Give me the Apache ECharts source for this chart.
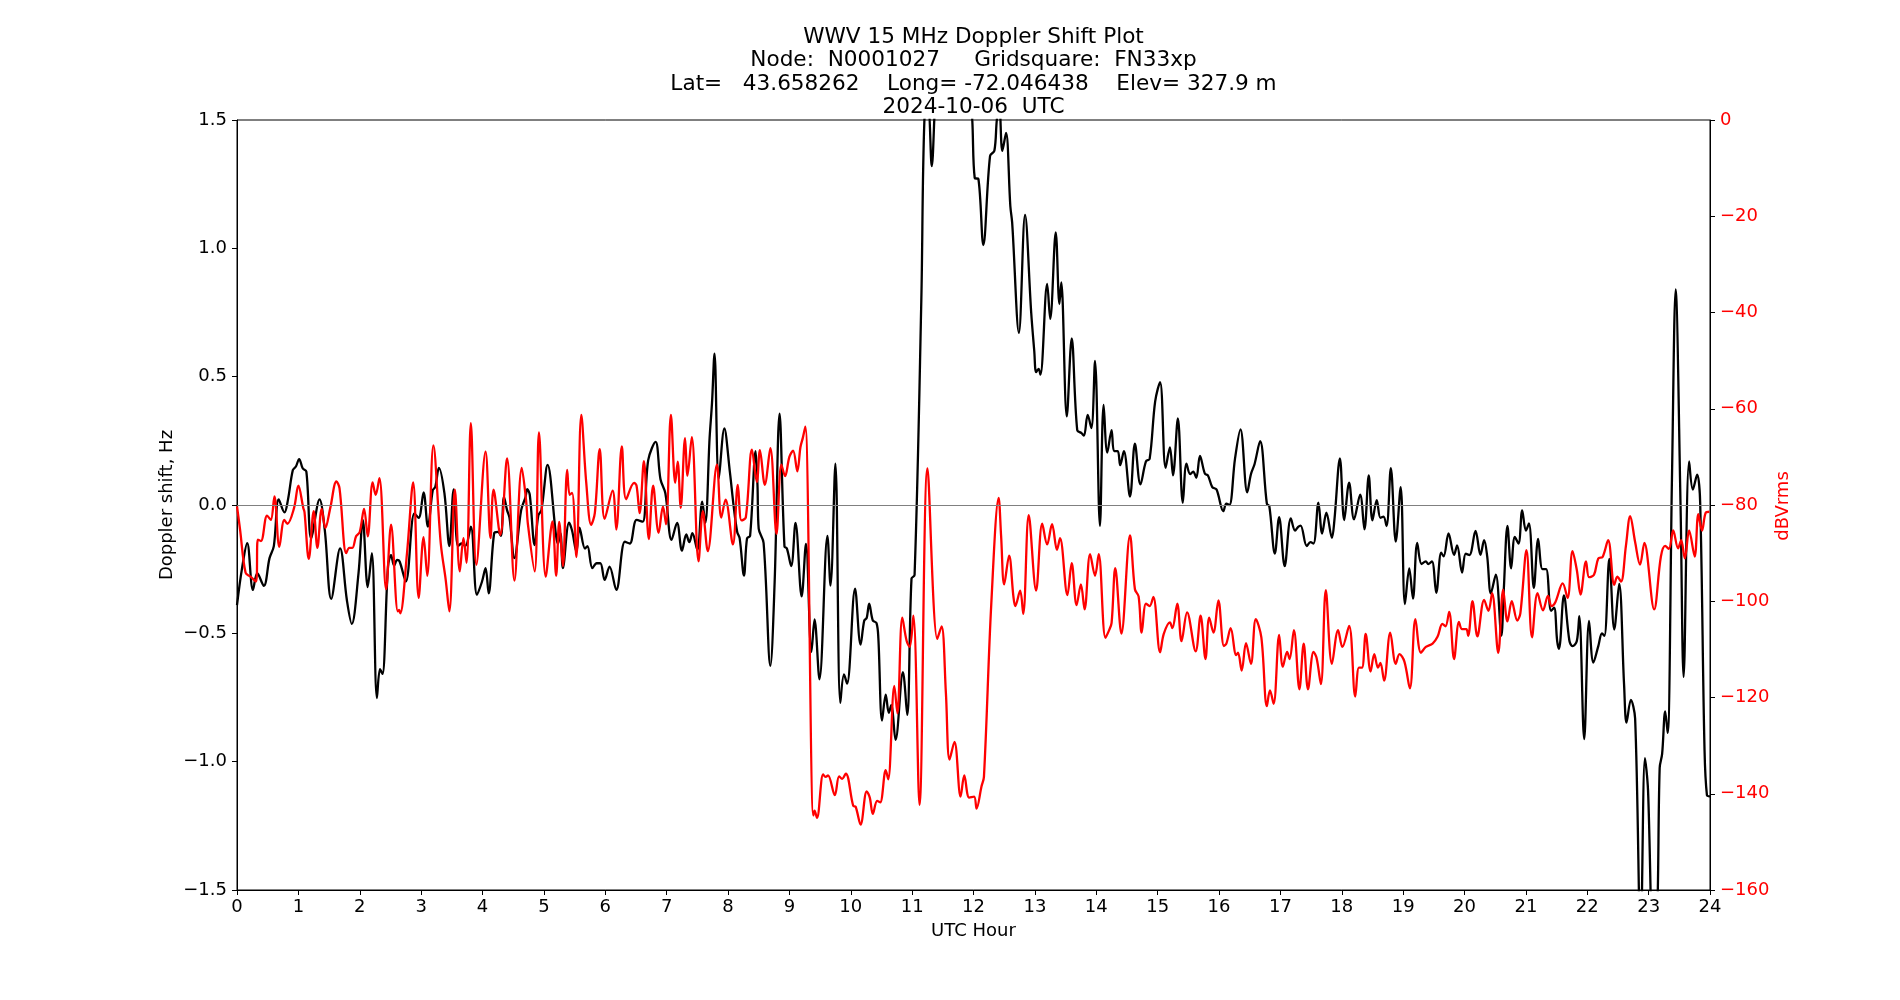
<!DOCTYPE html>
<html>
<head>
<meta charset="utf-8">
<title>WWV 15 MHz Doppler Shift Plot</title>
<script src="https://cdn.jsdelivr.net/npm/echarts@6/dist/echarts.min.js"></script>
<style>
  html, body { margin: 0; padding: 0; background: #fff; }
  #chart { width: 1900px; height: 1000px; }
</style>
</head>
<body>
<div id="chart"></div>
<script>
// Title lines
const titleLines = [
  'WWV 15 MHz Doppler Shift Plot',
  'Node:  N0001027     Gridsquare:  FN33xp',
  'Lat=   43.658262    Long= -72.046438    Elev= 327.9 m',
  '2024-10-06  UTC'
];

// Doppler shift (Hz) vs UTC hour
const dopplerPts = [
  [0.00,-0.39],[0.08,-0.25],[0.166,-0.149],[0.26,-0.331],[0.33,-0.266],[0.437,-0.315],[0.53,-0.207],[0.60,-0.16],
  [0.68,0.022],[0.774,-0.029],[0.83,0.02],[0.91,0.136],[0.96,0.15],[1.013,0.179],[1.07,0.143],[1.13,0.13],
  [1.21,-0.13],[1.345,0.022],[1.43,-0.097],[1.535,-0.366],[1.68,-0.169],[1.79,-0.37],[1.87,-0.463],[1.98,-0.265],
  [2.05,-0.058],[2.13,-0.32],[2.197,-0.188],[2.28,-0.752],[2.33,-0.64],[2.37,-0.658],[2.46,-0.24],[2.51,-0.195],
  [2.56,-0.236],[2.61,-0.214],[2.65,-0.22],[2.75,-0.298],[2.89,-0.033],[2.96,-0.05],[3.04,0.049],[3.11,-0.084],
  [3.19,0.058],[3.23,0.07],[3.29,0.145],[3.38,0.045],[3.46,-0.16],[3.53,0.061],[3.60,-0.16],[3.66,-0.15],
  [3.72,-0.16],[3.81,-0.084],[3.91,-0.35],[3.99,-0.3],[4.05,-0.246],[4.10,-0.344],[4.19,-0.11],[4.25,-0.105],
  [4.30,-0.12],[4.35,0.032],[4.40,-0.02],[4.44,-0.05],[4.52,-0.207],[4.63,-0.02],[4.70,0.03],[4.73,0.062],
  [4.77,0.04],[4.85,-0.156],[4.91,-0.04],[4.96,-0.02],[5.06,0.156],[5.20,-0.123],[5.23,-0.15],[5.27,-0.11],
  [5.31,-0.246],[5.41,-0.069],[5.46,-0.1],[5.53,-0.182],[5.58,-0.088],[5.67,-0.17],[5.71,-0.16],[5.79,-0.246],
  [5.86,-0.227],[5.92,-0.227],[5.99,-0.292],[6.07,-0.24],[6.18,-0.331],[6.32,-0.143],[6.40,-0.15],[6.51,-0.058],
  [6.61,-0.065],[6.70,0.175],[6.82,0.246],[6.90,0.10],[6.98,0.045],[7.08,-0.136],[7.17,-0.07],[7.25,-0.178],
  [7.32,-0.115],[7.37,-0.145],[7.42,-0.11],[7.50,-0.175],[7.58,0.013],[7.63,-0.07],[7.70,0.26],[7.74,0.40],
  [7.78,0.59],[7.85,0.103],[7.94,0.298],[8.03,0.13],[8.09,0.0],[8.15,-0.105],[8.19,-0.13],[8.26,-0.275],
  [8.31,-0.13],[8.36,-0.12],[8.45,0.21],[8.48,0.08],[8.50,-0.092],[8.58,-0.148],[8.69,-0.627],[8.76,-0.3],
  [8.84,0.356],[8.92,-0.161],[8.96,-0.17],[9.03,-0.238],[9.10,-0.07],[9.20,-0.356],[9.27,-0.152],[9.36,-0.572],
  [9.41,-0.446],[9.49,-0.679],[9.62,-0.12],[9.67,-0.314],[9.75,0.161],[9.83,-0.771],[9.89,-0.66],[9.94,-0.696],
  [10.07,-0.326],[10.16,-0.544],[10.22,-0.45],[10.26,-0.44],[10.30,-0.384],[10.36,-0.45],[10.42,-0.46],[10.45,-0.52],
  [10.51,-0.84],[10.57,-0.739],[10.62,-0.81],[10.66,-0.78],[10.73,-0.915],[10.85,-0.651],[10.92,-0.818],[10.99,-0.287],
  [11.04,-0.273],[11.15,0.8],[11.20,1.5],[11.26,1.55],[11.32,1.32],[11.37,1.55],[11.45,1.9],[11.70,2.0],
  [11.90,1.8],[11.98,1.5],[12.02,1.274],[12.08,1.27],[12.16,1.013],[12.27,1.36],[12.34,1.38],[12.38,1.5],
  [12.42,1.56],[12.47,1.38],[12.53,1.45],[12.60,1.165],[12.63,1.1],[12.74,0.671],[12.84,1.13],[12.94,0.75],
  [12.99,0.6],[13.02,0.518],[13.06,0.53],[13.09,0.508],[13.20,0.861],[13.25,0.725],[13.34,1.062],[13.40,0.783],
  [13.43,0.867],[13.52,0.345],[13.60,0.649],[13.69,0.292],[13.76,0.28],[13.80,0.27],[13.86,0.351],[13.92,0.3],
  [13.98,0.561],[14.06,-0.081],[14.12,0.39],[14.18,0.204],[14.25,0.292],[14.29,0.21],[14.35,0.21],[14.39,0.155],
  [14.45,0.21],[14.55,0.033],[14.63,0.239],[14.72,0.08],[14.81,0.17],[14.87,0.18],[14.96,0.404],[15.04,0.479],
  [15.13,0.145],[15.20,0.224],[15.25,0.116],[15.33,0.337],[15.41,0.008],[15.47,0.161],[15.53,0.12],[15.58,0.13],
  [15.63,0.106],[15.69,0.191],[15.77,0.122],[15.82,0.115],[15.89,0.07],[15.96,0.06],[16.07,-0.024],[16.12,0.005],
  [16.17,0.0],[16.26,0.179],[16.35,0.295],[16.46,0.049],[16.52,0.12],[16.58,0.16],[16.67,0.249],[16.78,0.005],
  [16.82,-0.005],[16.91,-0.189],[16.98,-0.047],[17.07,-0.238],[17.17,-0.052],[17.24,-0.1],[17.29,-0.085],[17.33,-0.08],
  [17.43,-0.16],[17.49,-0.145],[17.54,-0.15],[17.62,0.009],[17.68,-0.111],[17.75,-0.03],[17.84,-0.128],[17.88,-0.06],
  [17.97,0.182],[18.04,-0.059],[18.12,0.087],[18.20,-0.056],[18.30,0.04],[18.37,-0.095],[18.44,0.115],[18.50,-0.06],
  [18.57,0.019],[18.63,-0.05],[18.68,-0.045],[18.73,-0.082],[18.80,0.144],[18.88,-0.143],[18.96,0.07],[19.03,-0.386],
  [19.10,-0.247],[19.16,-0.365],[19.23,-0.148],[19.30,-0.23],[19.37,-0.22],[19.41,-0.23],[19.47,-0.22],[19.54,-0.342],
  [19.62,-0.186],[19.66,-0.2],[19.74,-0.111],[19.83,-0.194],[19.88,-0.157],[19.96,-0.263],[20.02,-0.19],[20.08,-0.195],
  [20.18,-0.101],[20.26,-0.194],[20.32,-0.137],[20.37,-0.2],[20.43,-0.344],[20.51,-0.271],[20.60,-0.509],[20.64,-0.33],
  [20.70,-0.081],[20.76,-0.247],[20.82,-0.124],[20.88,-0.15],[20.94,-0.021],[21.00,-0.1],[21.05,-0.072],[21.13,-0.323],
  [21.20,-0.132],[21.27,-0.25],[21.33,-0.25],[21.41,-0.412],[21.46,-0.4],[21.51,-0.53],[21.54,-0.56],[21.62,-0.352],
  [21.71,-0.53],[21.76,-0.55],[21.83,-0.53],[21.87,-0.433],[21.95,-0.912],[22.03,-0.452],[22.10,-0.614],[22.18,-0.55],
  [22.24,-0.5],[22.28,-0.51],[22.36,-0.21],[22.44,-0.485],[22.52,-0.307],[22.60,-0.7],[22.64,-0.848],[22.71,-0.759],
  [22.78,-0.832],[22.87,-1.7],[22.94,-0.986],[22.99,-1.11],[23.08,-1.8],[23.14,-1.6],[23.18,-1.025],[23.22,-0.97],
  [23.27,-0.804],[23.31,-0.888],[23.38,0.1],[23.44,0.84],[23.52,0.0],[23.57,-0.67],[23.66,0.17],[23.72,0.06],
  [23.79,0.118],[23.84,0.008],[23.91,-0.945],[23.95,-1.13],[24.00,-1.135]
];

// Received power (dBVrms) vs UTC hour
const powerPts = [
  [0.00,-80.3],[0.05,-85.1],[0.14,-94.1],[0.22,-94.9],[0.31,-95.9],[0.34,-87.2],[0.39,-87.5],[0.49,-82.2],
  [0.55,-83.1],[0.61,-78.2],[0.69,-88.7],[0.77,-83.1],[0.82,-83.9],[0.93,-80.6],[1.00,-76.0],[1.08,-80.6],
  [1.10,-81.5],[1.17,-91.2],[1.25,-81.3],[1.31,-88.9],[1.38,-80.8],[1.44,-84.8],[1.52,-80.6],[1.62,-75.1],
  [1.67,-76.5],[1.78,-90.0],[1.83,-88.9],[1.88,-88.9],[1.94,-86.5],[2.00,-85.6],[2.07,-80.8],[2.13,-86.5],
  [2.21,-75.3],[2.26,-77.9],[2.32,-74.4],[2.43,-97.5],[2.51,-84.1],[2.62,-102.1],[2.64,-101.8],[2.66,-102.5],
  [2.77,-90],[2.87,-75.3],[2.96,-99.3],[3.04,-86.7],[3.10,-94.7],[3.20,-67.6],[3.32,-88],[3.40,-95.5],
  [3.46,-102.1],[3.55,-76.8],[3.63,-93.8],[3.69,-86.9],[3.74,-92],[3.81,-63.0],[3.90,-92.4],[4.05,-68.9],
  [4.13,-86.9],[4.18,-76.8],[4.29,-86.2],[4.40,-70.3],[4.52,-95.7],[4.64,-72.3],[4.71,-79],[4.74,-84],
  [4.85,-93.8],[4.92,-64.9],[5.03,-94.9],[5.14,-83.4],[5.20,-94.7],[5.25,-83.5],[5.31,-92.7],[5.38,-72.7],
  [5.42,-77.9],[5.46,-77.5],[5.53,-90.8],[5.61,-61.3],[5.69,-75.3],[5.77,-84.1],[5.83,-81.7],[5.91,-68.4],
  [5.99,-82.9],[6.12,-77.0],[6.18,-85.1],[6.27,-67.8],[6.34,-78.8],[6.47,-75.4],[6.51,-76],[6.56,-81.7],
  [6.63,-70.9],[6.71,-87.1],[6.78,-76.0],[6.87,-85.8],[6.94,-80.3],[6.99,-84],[7.07,-61.3],[7.14,-75.4],
  [7.18,-71],[7.23,-80.6],[7.30,-66.1],[7.34,-73.9],[7.41,-65.9],[7.52,-91.7],[7.59,-81.3],[7.67,-89.6],
  [7.82,-71.6],[7.89,-82.6],[7.96,-78.9],[8.08,-88.2],[8.16,-75.8],[8.22,-83.2],[8.29,-82.6],[8.39,-68.5],
  [8.47,-75.2],[8.52,-68.6],[8.60,-75.8],[8.69,-68.2],[8.79,-86.0],[8.87,-71.6],[8.93,-74],[9.00,-70],
  [9.06,-68.7],[9.13,-73],[9.18,-68],[9.22,-66],[9.26,-63.7],[9.39,-144.5],[9.41,-143.5],[9.45,-145],
  [9.55,-136],[9.59,-136.5],[9.63,-136.2],[9.74,-140.3],[9.81,-136.4],[9.86,-136.9],[9.92,-135.8],[10.04,-142.5],
  [10.08,-142.7],[10.16,-146.4],[10.26,-139.5],[10.31,-140.8],[10.36,-144.2],[10.43,-141.5],[10.48,-141.8],[10.57,-135.1],
  [10.61,-137],[10.71,-117.6],[10.76,-123.3],[10.84,-103.4],[10.91,-108.2],[10.96,-109.5],[11.02,-103],[11.12,-142.3],
  [11.25,-72.4],[11.41,-107.8],[11.48,-105.2],[11.55,-119],[11.61,-132.9],[11.69,-129.2],[11.79,-140.6],[11.85,-136.2],
  [11.93,-140.8],[12.01,-140.6],[12.05,-143.1],[12.13,-138.5],[12.17,-136.5],[12.29,-100.5],[12.41,-78.5],[12.45,-86.5],
  [12.50,-96.5],[12.58,-90.5],[12.65,-99],[12.68,-101],[12.76,-97.8],[12.81,-102.6],[12.90,-82.1],[13.02,-97.8],
  [13.12,-83.9],[13.20,-88.2],[13.28,-84],[13.36,-89.3],[13.41,-86.9],[13.53,-98.7],[13.60,-92.1],[13.68,-100.8],
  [13.75,-96.5],[13.81,-101.7],[13.90,-90.2],[13.98,-94.7],[14.04,-90.2],[14.15,-107.6],[14.21,-106],[14.25,-104.5],
  [14.31,-93.1],[14.41,-106.7],[14.55,-86.3],[14.63,-97.5],[14.69,-99],[14.74,-106.5],[14.81,-100.5],[14.87,-101],
  [14.93,-99.1],[15.04,-110.6],[15.10,-106.8],[15.20,-104.4],[15.24,-105.6],[15.32,-100.5],[15.39,-108.3],[15.48,-102.3],
  [15.62,-110.4],[15.70,-103],[15.78,-112],[15.84,-103.4],[15.91,-106.5],[15.99,-99.8],[16.08,-109.3],[16.12,-108.8],
  [16.19,-105.6],[16.28,-111.2],[16.31,-110.7],[16.37,-114.4],[16.44,-108.7],[16.52,-113],[16.60,-103.7],[16.69,-107.5],
  [16.78,-121.8],[16.83,-118.5],[16.89,-121.3],[16.98,-107],[17.04,-113.6],[17.11,-110.5],[17.15,-112],[17.22,-106],
  [17.31,-118.3],[17.38,-108.8],[17.45,-118.3],[17.54,-110.5],[17.59,-111.8],[17.66,-117.2],[17.74,-97.7],[17.84,-113],
  [17.94,-106],[18.01,-109.5],[18.12,-105.1],[18.22,-119.8],[18.28,-113.8],[18.33,-113.8],[18.39,-106.8],[18.47,-114.6],
  [18.53,-111],[18.59,-113.8],[18.63,-112.8],[18.69,-116.5],[18.79,-106.5],[18.88,-113],[18.94,-111],[19.02,-112.5],
  [19.11,-118.1],[19.20,-103.7],[19.29,-110.7],[19.37,-109.5],[19.48,-108.8],[19.56,-107.4],[19.64,-104.7],[19.69,-105.2],
  [19.75,-102.2],[19.83,-112],[19.91,-104.3],[19.96,-105.8],[20.03,-105.8],[20.06,-107.2],[20.13,-100],[20.21,-107.3],
  [20.32,-99.7],[20.39,-102],[20.45,-98.3],[20.55,-110.7],[20.63,-97.6],[20.70,-104.2],[20.77,-100],[20.86,-104],
  [20.91,-102.5],[21.01,-89.4],[21.10,-107.5],[21.19,-98.3],[21.28,-101.9],[21.36,-98.9],[21.42,-101],[21.48,-100.2],
  [21.60,-96.3],[21.68,-99.3],[21.76,-89.6],[21.83,-93.5],[21.89,-98.6],[21.98,-91.7],[22.03,-95],[22.11,-94.5],
  [22.18,-91.1],[22.25,-90.8],[22.34,-87.3],[22.44,-96.6],[22.49,-94.9],[22.55,-95.9],[22.63,-88.5],[22.70,-82.3],
  [22.78,-87.7],[22.86,-92.4],[22.93,-87.9],[23.09,-101.7],[23.20,-90.7],[23.27,-88.5],[23.33,-89.1],[23.40,-85.3],
  [23.48,-89],[23.53,-87.3],[23.59,-91.1],[23.66,-85.3],[23.75,-90.7],[23.81,-81.9],[23.87,-85.3],[23.93,-81.6],
  [23.99,-81.4]
];

const FONT = 'DejaVu Sans';
const minus = (s) => String(s).replace('-', '\u2212');

const chart = echarts.init(document.getElementById('chart'), null, { renderer: 'canvas' });

const plotLeft = 237, plotRight = 190, plotTop = 120, plotBottom = 110;
const plotCenterX = plotLeft + (1900 - plotLeft - plotRight) / 2;

const option = {
  animation: false,
  backgroundColor: '#fff',
  grid: {
    left: plotLeft,
    right: plotRight,
    top: plotTop,
    bottom: plotBottom,
    show: true,
    borderColor: '#000',
    borderWidth: 1,
    containLabel: false
  },
  xAxis: {
    type: 'value',
    min: 0,
    max: 24,
    interval: 1,
    axisLine: { show: true, onZero: false, lineStyle: { color: '#000', width: 1 } },
    axisTick: { show: true, length: 5, lineStyle: { color: '#000' } },
    axisLabel: { color: '#000', fontFamily: FONT, fontSize: 18, margin: 8 },
    splitLine: { show: false }
  },
  yAxis: [
    {
      type: 'value',
      position: 'left',
      min: -1.5,
      max: 1.5,
      interval: 0.5,
      axisLine: { show: true, onZero: false, lineStyle: { color: '#000', width: 1 } },
      axisTick: { show: true, length: 5, lineStyle: { color: '#000' } },
      axisLabel: {
        color: '#000', fontFamily: FONT, fontSize: 18, margin: 10,
        formatter: (v) => minus(v.toFixed(1))
      },
      splitLine: { show: false }
    },
    {
      type: 'value',
      position: 'right',
      min: -160,
      max: 0,
      interval: 20,
      axisLine: { show: true, onZero: false, lineStyle: { color: '#000', width: 1 } },
      axisTick: { show: true, length: 5, lineStyle: { color: '#000' } },
      axisLabel: {
        color: '#ff0000', fontFamily: FONT, fontSize: 18, margin: 10,
        formatter: (v) => minus(Math.round(v))
      },
      splitLine: { show: false }
    }
  ],
  graphic: [
    {
      type: 'text',
      x: plotCenterX,
      y: 26,
      style: {
        text: titleLines.join('\n'),
        fontFamily: FONT,
        fontSize: 21.6,
        lineHeight: 23.2,
        fill: '#000',
        align: 'center',
        verticalAlign: 'top'
      }
    },
    {
      type: 'text',
      x: plotCenterX,
      y: 931,
      style: {
        text: 'UTC Hour', fontFamily: FONT, fontSize: 18, fill: '#000',
        align: 'center', verticalAlign: 'middle'
      }
    },
    {
      type: 'text',
      x: 167,
      y: 505,
      rotation: Math.PI / 2,
      style: {
        text: 'Doppler shift, Hz', fontFamily: FONT, fontSize: 18, fill: '#000',
        align: 'center', verticalAlign: 'middle'
      }
    },
    {
      type: 'text',
      x: 1783,
      y: 506,
      rotation: Math.PI / 2,
      style: {
        text: 'dBVrms', fontFamily: FONT, fontSize: 18, fill: '#ff0000',
        align: 'center', verticalAlign: 'middle'
      }
    }
  ],
  series: [
    {
      name: 'Doppler shift',
      type: 'line',
      xAxisIndex: 0,
      yAxisIndex: 0,
      data: dopplerPts,
      showSymbol: false,
      smooth: 0.35,
      clip: true,
      lineStyle: { color: '#000', width: 2.3 },
      markLine: {
        silent: true,
        symbol: 'none',
        label: { show: false },
        lineStyle: { color: '#808080', width: 1.2, type: 'solid' },
        data: [{ yAxis: 0 }]
      },
      z: 2
    },
    {
      name: 'Power',
      type: 'line',
      xAxisIndex: 0,
      yAxisIndex: 1,
      data: powerPts,
      showSymbol: false,
      smooth: 0.35,
      clip: true,
      lineStyle: { color: '#ff0000', width: 2.3 },
      z: 3
    }
  ]
};

chart.setOption(option);
</script>
</body>
</html>
